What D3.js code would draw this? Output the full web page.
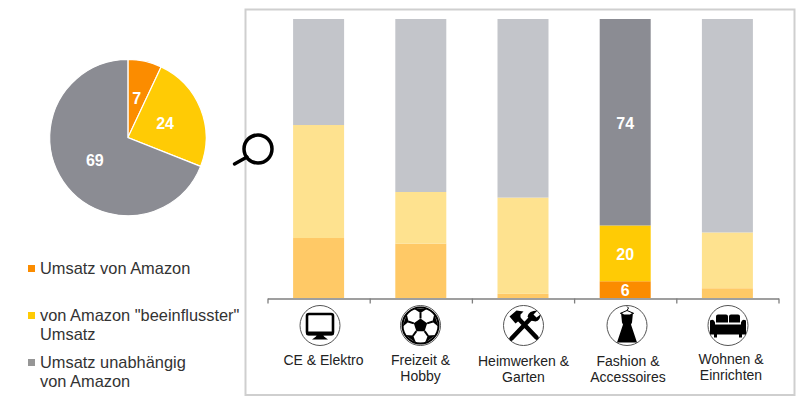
<!DOCTYPE html>
<html>
<head>
<meta charset="utf-8">
<script src="https://cdn.jsdelivr.net/npm/d3@7"></script>
<style>
  html, body { margin: 0; padding: 0; background: #fff; }
  svg { display: block; }
  text { font-family: "Liberation Sans", Arial, sans-serif; }
</style>
</head>
<body>
<div id="chart"></div>
<script>
'use strict';

var pieValues = [7, 24, 69];

var categories = ['CE & Elektro', 'Freizeit & Hobby', 'Heimwerken & Garten', 'Fashion & Accessoires', 'Wohnen & Einrichten']
  , amazon     = [21.5, 19.5, 1.5, 6, 3.5]
  , influenced = [40.5, 18.5, 34.5, 20, 20]
  , independent = [38, 62, 64, 74, 76.5];

var categoryLines = [['CE & Elektro'], ['Freizeit &', 'Hobby'], ['Heimwerken &', 'Garten'], ['Fashion &', 'Accessoires'], ['Wohnen &', 'Einrichten']]
  , legendLines = [['Umsatz von Amazon'], ['von Amazon "beeinflusster"', 'Umsatz'], ['Umsatz unabhängig', 'von Amazon']];

var colors = ['#fb8c00', '#ffcb05', '#8b8c93']
  , paleColors = ['#ffc966', '#fee28f', '#c3c5ca'];

var focused = 3;  // the one column shown at full strength

var svg = d3.select('#chart').append('svg').attr('width', 800).attr('height', 400);

svg.append('rect')
   .attr('x', 245.5).attr('y', 9.5).attr('width', 549).attr('height', 385.5)
   .attr('fill', 'none').attr('stroke', '#cfcfcf').attr('stroke-width', 2);

// pie

var arc = d3.arc().innerRadius(0).outerRadius(78.2)
  , labelArc = d3.arc().innerRadius(0).outerRadius(80);

var pie = svg.append('g').attr('transform', 'translate(127.9,137.6)');

var slices = d3.pie().sort(null)(pieValues);

pie.selectAll('path').data(slices).enter().append('path')
   .attr('d', arc)
   .attr('fill', function(d, i){ return colors[i]; })
   .attr('stroke', '#fff').attr('stroke-width', 1.2);

pie.selectAll('text').data(slices).enter().append('text')
   .attr('transform', function(d){ return 'translate(' + labelArc.centroid(d) + ')'; })
   .attr('text-anchor', 'middle').attr('dy', '0.36em')
   .attr('fill', '#fff').attr('font-size', 16).attr('font-weight', 'bold')
   .text(function(d){ return d.value; });

// magnifier

var lens = svg.append('g').attr('fill', 'none').attr('stroke', '#000').attr('stroke-linecap', 'round');
lens.append('circle').attr('cx', 258).attr('cy', 149).attr('r', 14).attr('stroke-width', 3.5).attr('fill', '#fff');
lens.append('line').attr('x1', 234.5).attr('y1', 164).attr('x2', 247).attr('y2', 157).attr('stroke-width', 3.5);

// legend

var legendY = [268, 315, 362];

var legend = svg.selectAll('g.legend').data(legendLines).enter().append('g')
   .attr('class', 'legend')
   .attr('transform', function(d, i){ return 'translate(0,' + legendY[i] + ')'; });

legend.append('rect')
   .attr('x', 28).attr('y', -3).attr('width', 7).attr('height', 7)
   .attr('fill', function(d, i){ return i == 2 ? '#969696' : colors[i]; });

legend.each(function(lines){
  d3.select(this).selectAll('text').data(lines).enter().append('text')
    .attr('x', 40)
    .attr('y', function(d, i){ return i * 18.6; })
    .attr('dy', '0.36em')
    .attr('font-size', 16.4).attr('fill', '#333')
    .text(function(d){ return d; });
});

// stacked columns

var x = d3.scaleBand().domain(categories).range([267.5, 778.5]).paddingInner(0).paddingOuter(0)
  , y = d3.scaleLinear().domain([0, 100]).range([298, 19]);

var rows = categories.map(function(c, i){
  return { category: c, amazon: amazon[i], influenced: influenced[i], independent: independent[i] };
});

var stack = d3.stack().keys(['amazon', 'influenced', 'independent'])(rows);

var barWidth = 51;

var layers = svg.selectAll('g.layer').data(stack).enter().append('g').attr('class', 'layer');

layers.selectAll('rect')
   .data(function(s, k){ return s.map(function(d){ return { d: d, k: k }; }); })
   .enter().append('rect')
   .attr('x', function(o){ return x(o.d.data.category) + (x.bandwidth() - barWidth) / 2; })
   .attr('width', barWidth)
   .attr('y', function(o){ return y(o.d[1]); })
   .attr('height', function(o){ return y(o.d[0]) - y(o.d[1]); })
   .attr('fill', function(o, i){ return i == focused ? colors[o.k] : paleColors[o.k]; });

layers.selectAll('text')
   .data(function(s){ return [s[focused]]; })
   .enter().append('text')
   .attr('x', function(d){ return x(d.data.category) + x.bandwidth() / 2; })
   .attr('y', function(d){ return (y(d[0]) + y(d[1])) / 2 + 0.6; })
   .attr('dy', '0.36em').attr('text-anchor', 'middle')
   .attr('fill', '#fff').attr('font-size', 16).attr('font-weight', 'bold')
   .text(function(d){ return d[1] - d[0]; });

// axis with ticks on the band edges

var edges = d3.scaleLinear().domain([0, categories.length]).range(x.range());

var axis = svg.append('g').attr('transform', 'translate(0,298.5)')
   .call(d3.axisBottom(edges).tickValues(d3.range(categories.length + 1)).tickSize(5).tickSizeOuter(0).tickFormat(''));
axis.selectAll('path, line').attr('stroke', '#7f7f7f').attr('stroke-width', 1.3);

// category icons and labels

var iconX = [320, 420.5, 523.5, 627, 728]
  , labelX = [323.5, 420.5, 523.5, 628, 731]
  , labelY = [360, 360, 361, 361, 359];

var icon = svg.selectAll('g.icon').data(categories).enter().append('g')
   .attr('class', 'icon')
   .attr('transform', function(d, i){ return 'translate(' + iconX[i] + ',325.5)'; });

icon.append('circle').attr('r', 20).attr('fill', '#fff').attr('stroke', '#555').attr('stroke-width', 1);

drawScreen(icon.filter(function(d, i){ return i == 0; }));
drawBall(icon.filter(function(d, i){ return i == 1; }));
drawTools(icon.filter(function(d, i){ return i == 2; }));
drawDress(icon.filter(function(d, i){ return i == 3; }));
drawSofa(icon.filter(function(d, i){ return i == 4; }));

svg.selectAll('g.cat').data(categoryLines).enter().append('g')
   .attr('class', 'cat')
   .each(function(lines, n){
     d3.select(this).selectAll('text').data(lines).enter().append('text')
       .attr('x', labelX[n])
       .attr('y', function(d, i){ return labelY[n] + i * 16.3; })
       .attr('dy', '0.36em').attr('text-anchor', 'middle')
       .attr('font-size', 14).attr('fill', '#222')
       .text(function(d){ return d; });
   });

// outline screen with a white display, as in the reference
function drawScreen(g){
  g.append('rect').attr('x', -13).attr('y', -11.5).attr('width', 26).attr('height', 20).attr('rx', 2)
   .attr('fill', '#fff').attr('stroke', '#000').attr('stroke-width', 2.6);
  g.append('path').attr('d', 'M-14,6L14,6L14,8Q14,10 12,10L-12,10Q-14,10 -14,8Z').attr('fill', '#000');
  g.append('path').attr('d', 'M-3,9L3,9L4,11L8,14L-8,14L-4,11Z').attr('fill', '#000');
}

// white panels on a black ball, with a black pentagon in the middle
function drawBall(g){
  var top = -Math.PI / 2
    , polar = function(r, a){ return [r * Math.cos(a), r * Math.sin(a)]; }
    , angles = d3.range(5).map(function(i){ return top + i * 2 * Math.PI / 5; });
  g.append('circle').attr('r', 18).attr('fill', '#fff').attr('stroke', '#000').attr('stroke-width', 2);
  g.append('path').attr('fill', '#000')
   .attr('d', d3.line()(angles.map(function(a){ return polar(7, a); })) + 'Z');
  g.selectAll('line.spoke').data(angles).enter().append('line')
   .attr('class', 'spoke')
   .attr('x1', function(a){ return polar(7, a)[0]; })
   .attr('y1', function(a){ return polar(7, a)[1]; })
   .attr('x2', function(a){ return polar(13, a)[0]; })
   .attr('y2', function(a){ return polar(13, a)[1]; })
   .attr('stroke', '#000').attr('stroke-width', 2);
  g.selectAll('path.patch').data(angles).enter().append('path')
   .attr('class', 'patch')
   .attr('fill', '#000')
   .attr('d', function(a){
     return d3.line()([polar(12.5, a), polar(18, a - 0.38), polar(18, a + 0.38)]) + 'Z';
   });
}

function drawTools(g){
  g.append('path').attr('stroke', '#000').attr('stroke-width', 4.5).attr('stroke-linecap', 'round').attr('fill', 'none')
   .attr('d', 'M-12,13L8,-8M-7,-9L13,12');
  g.append('path').attr('fill', '#000').attr('d', 'M-14,-9L-7,-15L0,-14L-3,-11L-3,-6L-8,-2Z');
  g.append('path').attr('fill', '#000').attr('d', 'M14,-15L10,-11L13,-8L17,-11Q17,-5 12,-4L7,-5L4,-9Q5,-15 14,-15Z');
}

function drawDress(g){
  g.append('path').attr('fill', 'none').attr('stroke', '#000').attr('stroke-width', 1)
   .attr('d', 'M0,-15Q3,-18 0,-19M0,-15L-7,-12M0,-15L7,-12');
  g.append('path').attr('fill', '#000')
   .attr('d', 'M-6,-13L-3,-11L3,-11L6,-13L5,-3L4,-1L10,17L-10,17L-4,-1L-5,-3Z');
}

function drawSofa(g){
  g.append('path').attr('fill', '#000')
   .attr('d', 'M-12,-9Q-12,-11 -10,-11L-2,-11Q0,-11 0,-9L0,-3L-12,-3Z'
     + 'M1,-9Q1,-11 3,-11L10,-11Q12,-11 12,-9L12,-3L1,-3Z'
     + 'M-18,-5Q-14,-7 -13,-3L-13,-1L13,-1L13,-3Q14,-7 18,-5L18,9L14,9L14,12L11,12L11,9L-11,9L-11,12L-14,12L-14,9L-18,9Z');
}
</script>
</body>
</html>
